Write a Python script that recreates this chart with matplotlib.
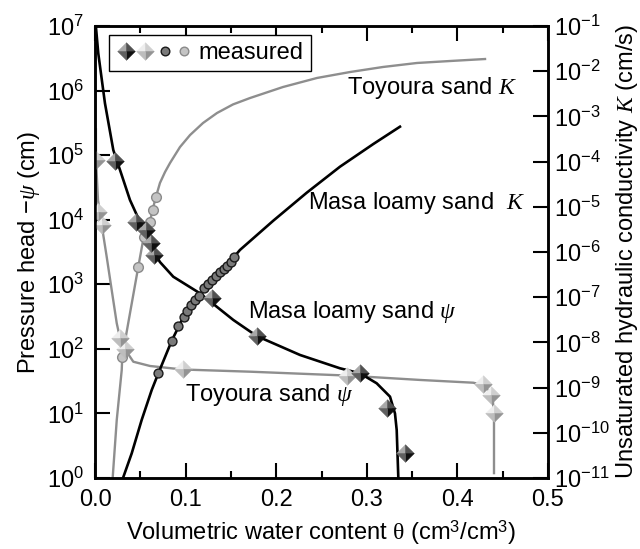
import matplotlib
matplotlib.use("Agg")
import matplotlib.pyplot as plt
from matplotlib.ticker import NullLocator, FixedLocator
from matplotlib.legend_handler import HandlerTuple
from matplotlib.lines import Line2D

# ---------------- data ----------------
# Masa loamy sand, water retention curve (theta, -psi in cm)
masa_psi_curve_theta = [0.0010, 0.0036, 0.0110, 0.0202, 0.0276, 0.0386, 0.0497, 0.0607, 0.0717,
                        0.0864, 0.1159, 0.1527, 0.1785, 0.2263, 0.2704, 0.2925, 0.3109, 0.3256,
                        0.3311, 0.3330, 0.3348]
masa_psi_curve = [9.8e6, 3.78e6, 6.35e5, 1.2e5, 5.9e4, 2.02e4, 9.2e3, 4.06e3, 2.21e3,
                  1.31e3, 724, 280, 158, 80.4, 50.0, 41.8, 29.3, 18.2,
                  10.0, 5.53, 1.0]
masa_psi_meas_theta = [0.0217, 0.0453, 0.0566, 0.0616, 0.0648, 0.1288, 0.1785, 0.2925, 0.3220, 0.3422]
masa_psi_meas = [8.1e4, 9.3e3, 7.0e3, 4.3e3, 2.85e3, 6.1e2, 1.58e2, 41.8, 12.0, 2.47]

# Toyoura sand, water retention curve
toy_psi_curve_theta = [0.0010, 0.0011, 0.0033, 0.0074, 0.0129, 0.0184, 0.0240, 0.0276, 0.0331,
                       0.0423, 0.0607, 0.0966, 0.1711, 0.2778, 0.3587, 0.4175, 0.4286, 0.4360,
                       0.4393, 0.4404, 0.4404]
toy_psi_curve = [2.5e5, 8.4e4, 2.02e4, 8.3e3, 2.67e3, 8.2e2, 2.49e2, 1.46e2, 98.4,
                 63.2, 54.3, 47.9, 44.3, 38.6, 33.0, 29.9, 27.5, 21.5,
                 15.0, 7.9, 1.19]
toy_psi_meas_theta = [0.0011, 0.0036, 0.0074, 0.0276, 0.0331, 0.0966, 0.2778, 0.4286, 0.4371, 0.4404]
toy_psi_meas = [8.4e4, 1.33e4, 8.3e3, 1.46e2, 98.4, 47.9, 38.6, 28.6, 19.3, 10.0]

# Masa loamy sand, unsaturated hydraulic conductivity (theta, K in cm/s)
masa_K_curve_theta = [0.0309, 0.0405, 0.0515, 0.0626, 0.0699, 0.0847, 0.0977, 0.1109, 0.1251,
                      0.1421, 0.1600, 0.1968, 0.2337, 0.2704, 0.3072, 0.3366]
masa_K_curve = [1.0e-11, 3.5e-11, 1.92e-10, 8.85e-10, 2.07e-9, 1.09e-8, 3.7e-8, 8.67e-8, 1.96e-7,
                4.2e-7, 1.11e-6, 4.93e-6, 2.05e-5, 7.71e-5, 2.45e-4, 5.92e-4]
masa_K_meas_theta = [0.0699, 0.0847, 0.0919, 0.0977, 0.1017, 0.1061, 0.1109, 0.1148, 0.1203,
                     0.1251, 0.1295, 0.1339, 0.1380, 0.1421, 0.1461, 0.1498, 0.1534]
masa_K_meas = [2.07e-9, 1.09e-8, 2.31e-8, 3.71e-8, 5.02e-8, 6.71e-8, 8.67e-8, 1.06e-7, 1.57e-7,
               1.96e-7, 2.40e-7, 2.94e-7, 3.56e-7, 4.21e-7, 4.98e-7, 6.10e-7, 7.87e-7]

# Toyoura sand, unsaturated hydraulic conductivity
toy_K_curve_theta = [0.0195, 0.0240, 0.0295, 0.0301, 0.0386, 0.0478, 0.0538, 0.0604, 0.0635,
                     0.0673, 0.0717, 0.0773, 0.0828, 0.0938, 0.1049, 0.1192, 0.1347, 0.1523,
                     0.1711, 0.2075, 0.2450, 0.2815, 0.3179, 0.3554, 0.3918, 0.4305]
toy_K_curve = [1.0e-11, 1.92e-10, 2.45e-9, 4.83e-9, 4.4e-8, 4.73e-7, 2.18e-6, 4.50e-6, 8.49e-6,
               1.67e-5, 3.37e-5, 5.89e-5, 9.31e-5, 2.10e-4, 3.87e-4, 7.14e-4, 1.19e-3, 1.84e-3,
               2.55e-3, 4.47e-3, 7.08e-3, 9.59e-3, 1.24e-2, 1.52e-2, 1.68e-2, 1.86e-2]
toy_K_meas_theta = [0.0301, 0.0478, 0.0538, 0.0604, 0.0635, 0.0673]
toy_K_meas = [4.83e-9, 4.73e-7, 2.18e-6, 4.50e-6, 8.49e-6, 1.67e-5]

# ticks
x_ticks = [0.0, 0.1, 0.2, 0.3, 0.4, 0.5]
x_tick_labels = ["0.0", "0.1", "0.2", "0.3", "0.4", "0.5"]
x_minor_ticks = [0.05, 0.15, 0.25, 0.35, 0.45]
psi_ticks = [1e0, 1e1, 1e2, 1e3, 1e4, 1e5, 1e6, 1e7]
psi_tick_labels = [r"$\mathregular{10^{%d}}$" % e for e in range(0, 8)]
K_ticks = [1e-11, 1e-10, 1e-9, 1e-8, 1e-7, 1e-6, 1e-5, 1e-4, 1e-3, 1e-2, 1e-1]
K_tick_labels = [r"$\mathregular{10^{%d}}$" % e for e in range(-11, 0)]

# ---------------- style ----------------
FS = 17
plt.rcParams.update({
    "font.family": ["Liberation Sans", "DejaVu Sans"],
    "font.size": FS,
    "mathtext.fontset": "custom",
    "mathtext.rm": "Liberation Sans",
    "mathtext.sf": "Liberation Sans",
    "mathtext.it": "Liberation Serif:italic",
    "mathtext.tt": "Liberation Serif",
})

GRAY = "#8e8e8e"
BLACK = "#000000"
dark_faces = ["#a8a8a8", "#505050", "#101010", "#606060"]   # TL, TR, BR, BL
light_faces = ["#eeeeee", "#cfcfcf", "#939393", "#bdbdbd"]
face_verts = [
    [(0, 0), (-1, 0), (0, 1), (0, 0)],
    [(0, 0), (0, 1), (1, 0), (0, 0)],
    [(0, 0), (1, 0), (0, -1), (0, 0)],
    [(0, 0), (0, -1), (-1, 0), (0, 0)],
]
DMS = 12.5

fig = plt.figure(figsize=(6.4, 5.49), dpi=100)
ax = fig.add_axes([95 / 640, 1 - 478 / 549, 453 / 640, 452 / 549])
ax2 = ax.twinx()

ax.set_xlim(0, 0.5)
ax.set_yscale("log")
ax.set_ylim(1, 1e7)
ax2.set_yscale("log")
ax2.set_ylim(1e-11, 1e-1)

tK = ax2.transData  # K curves drawn in ax with ax2's scale so that z-order is shared


def diamonds(x, y, faces, transform=None, zorder=5):
    arts = []
    for v, c in zip(face_verts, faces):
        kw = {} if transform is None else {"transform": transform}
        (a,) = ax.plot(x, y, ls="none", marker=v, ms=DMS, mfc=c, mec=c, mew=0.4,
                       zorder=zorder, **kw)
        arts.append(a)
    return arts


# curves
ax.plot(toy_psi_curve_theta, toy_psi_curve, color=GRAY, lw=1.7, zorder=2)
ax.plot(masa_psi_curve_theta, masa_psi_curve, color=BLACK, lw=1.9, zorder=2)
ax.plot(toy_K_curve_theta, toy_K_curve, color=GRAY, lw=1.7, zorder=2, transform=tK)
ax.plot(masa_K_curve_theta, masa_K_curve, color=BLACK, lw=1.9, zorder=2, transform=tK)

# measured
ax.plot(toy_K_meas_theta, toy_K_meas, ls="none", marker="o", ms=7, mfc="#c4c4c4",
        mec="#8a8a8a", mew=1.0, zorder=4, transform=tK)
ax.plot(masa_K_meas_theta, masa_K_meas, ls="none", marker="o", ms=6.4, mfc="#7a7a7a",
        mec="#1a1a1a", mew=1.0, zorder=4, transform=tK)
diamonds(toy_psi_meas_theta, toy_psi_meas, light_faces)
diamonds(masa_psi_meas_theta, masa_psi_meas, dark_faces)

# ticks
ax.xaxis.set_major_locator(FixedLocator(x_ticks))
ax.set_xticklabels(x_tick_labels)
ax.xaxis.set_minor_locator(FixedLocator(x_minor_ticks))
ax.yaxis.set_major_locator(FixedLocator(psi_ticks))
ax.set_yticklabels(psi_tick_labels)
ax.yaxis.set_minor_locator(NullLocator())
ax2.yaxis.set_major_locator(FixedLocator(K_ticks))
ax2.set_yticklabels(K_tick_labels)
ax2.yaxis.set_minor_locator(NullLocator())

ax.tick_params(axis="both", which="major", direction="in", length=10.5, width=1.5,
               labelsize=FS, pad=8)
ax.tick_params(axis="x", which="minor", direction="in", length=5, width=1.5)
ax.tick_params(axis="x", which="both", top=True)
ax.tick_params(axis="y", which="both", right=False)
ax2.tick_params(axis="y", which="major", direction="in", length=10.5, width=1.5,
                labelsize=FS, pad=4)
for a in (ax, ax2):
    for s in a.spines.values():
        s.set_linewidth(1.8)

ax.set_xlabel(r"Volumetric water content $\mathtt{\theta}$ (cm$^{3}$/cm$^{3}$)", fontsize=FS,
              labelpad=5)
ax.set_ylabel(r"Pressure head $-\psi$ (cm)", fontsize=FS, labelpad=3)
ax2.set_ylabel(r"Unsaturated hydraulic conductivity $K$ (cm/s)", fontsize=FS, labelpad=3)

# annotations
ax.text(0.556, 0.863, r"Toyoura sand $K$", transform=ax.transAxes, fontsize=FS,
        ha="left", va="center")
ax.text(0.470, 0.608, r"Masa loamy sand  $K$", transform=ax.transAxes, fontsize=FS,
        ha="left", va="center")
ax.text(0.338, 0.367, r"Masa loamy sand $\psi$", transform=ax.transAxes, fontsize=FS,
        ha="left", va="center")
ax.text(0.199, 0.184, r"Toyoura sand $\psi$", transform=ax.transAxes, fontsize=FS,
        ha="left", va="center")


# legend
class Outer(tuple):
    pass


def face_handles(faces):
    return tuple(Line2D([], [], ls="none", marker=v, ms=DMS, mfc=c, mec=c, mew=0.4)
                 for v, c in zip(face_verts, faces))


h_dark = face_handles(dark_faces)
h_light = face_handles(light_faces)
h_cd = Line2D([], [], ls="none", marker="o", ms=6.2, mfc="#7a7a7a", mec="#1a1a1a", mew=1.0)
h_cl = Line2D([], [], ls="none", marker="o", ms=6.2, mfc="#c4c4c4", mec="#8a8a8a", mew=1.0)
leg = ax.legend(handles=[Outer((h_dark, h_light, h_cd, h_cl))], labels=["measured"],
                handler_map={Outer: HandlerTuple(ndivide=None, pad=0.0),
                             tuple: HandlerTuple(ndivide=1)},
                loc="upper left", bbox_to_anchor=(0.031, 0.980), borderaxespad=0,
                fontsize=FS, handlelength=3.3, handletextpad=0.2, borderpad=0.3,
                fancybox=False, framealpha=1, edgecolor="black", numpoints=1)
leg.get_frame().set_linewidth(1.0)
leg.set_zorder(10)

fig.savefig("out.png", dpi=100)
